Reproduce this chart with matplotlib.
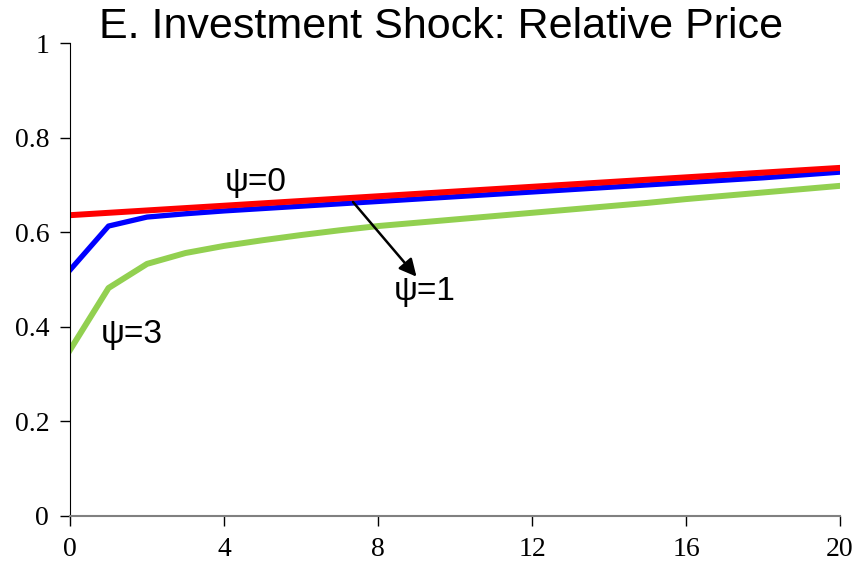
import matplotlib.pyplot as plt

# Periods after the shock
periods = list(range(21))

# Relative price response for each psi
psi0 = [0.636, 0.641, 0.646, 0.651, 0.656, 0.661, 0.666, 0.671, 0.676, 0.681, 0.686,
        0.691, 0.696, 0.701, 0.706, 0.711, 0.716, 0.721, 0.726, 0.731, 0.736]
psi1 = [0.520, 0.613, 0.632, 0.639, 0.645, 0.650, 0.655, 0.660, 0.665, 0.670, 0.675,
        0.680, 0.685, 0.690, 0.695, 0.700, 0.705, 0.710, 0.715, 0.721, 0.727]
psi3 = [0.351, 0.482, 0.533, 0.556, 0.571, 0.583, 0.594, 0.604, 0.613, 0.620, 0.627,
        0.634, 0.641, 0.648, 0.655, 0.662, 0.670, 0.677, 0.684, 0.691, 0.698]

xticks = [0, 4, 8, 12, 16, 20]
yticks = [0, 0.2, 0.4, 0.6, 0.8, 1]
ytick_labels = ['0', '0.2', '0.4', '0.6', '0.8', '1']

fig = plt.figure(figsize=(8.58, 5.63), dpi=100)
ax = fig.add_axes([0.0816, 0.0835, 0.8974, 0.8401])

ax.plot(periods, psi3, color='#92D050', linewidth=4.3, solid_joinstyle='round')
ax.plot(periods, psi1, color='#0000FF', linewidth=3.8, solid_joinstyle='round')
ax.plot(periods, psi0, color='#FF0000', linewidth=4.3)

ax.set_xlim(0, 20)
ax.set_ylim(0, 1)
ax.set_xticks(xticks)
ax.set_xticklabels([str(t) for t in xticks])
ax.set_yticks(yticks)
ax.set_yticklabels(ytick_labels)

for lab in ax.get_xticklabels() + ax.get_yticklabels():
    lab.set_family('Liberation Serif')
    lab.set_fontsize(20)

ax.tick_params(axis='both', direction='out', length=7, width=1, color='black')
ax.tick_params(axis='y', pad=8)
ax.tick_params(axis='x', pad=8)

ax.spines['top'].set_visible(False)
ax.spines['right'].set_visible(False)
ax.spines['left'].set_color('black')
ax.spines['bottom'].set_color('#808080')
ax.spines['bottom'].set_linewidth(1.5)

lab_font = dict(family='Liberation Sans', fontsize=24, ha='center', va='center')
ax.text(4.83, 0.706, 'ψ=0', **lab_font)
ax.text(9.22, 0.474, 'ψ=1', **lab_font)
ax.text(1.61, 0.383, 'ψ=3', **lab_font)
ax.annotate('', xy=(9.0, 0.506), xytext=(7.35, 0.664),
            arrowprops=dict(arrowstyle='-|>', color='black', lw=1.8,
                            mutation_scale=26, shrinkA=0, shrinkB=0))

fig.text(0.514, 0.952, 'E. Investment Shock: Relative Price',
         family='Liberation Sans', fontsize=31, ha='center', va='center')

plt.savefig('out.png', dpi=100)
